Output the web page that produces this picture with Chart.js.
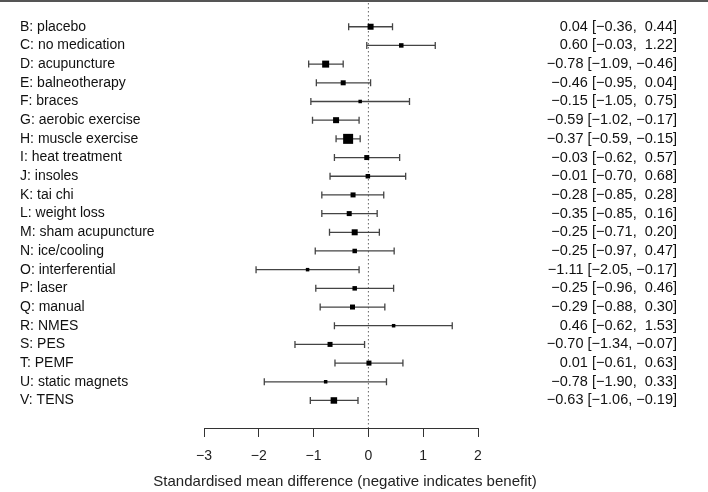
<!DOCTYPE html>
<html>
<head>
<meta charset="utf-8">
<script src="https://cdn.jsdelivr.net/npm/chart.js@4.4.1/dist/chart.umd.min.js"></script>
<style>
  html, body { margin: 0; padding: 0; background: #fff; }
  #wrap { width: 708px; height: 492px; position: relative; }
</style>
</head>
<body>
<div id="wrap"><canvas id="forest"></canvas></div>
<script>
(function () {
  "use strict";

  var treatments = [
    "B: placebo", "C: no medication", "D: acupuncture", "E: balneotherapy",
    "F: braces", "G: aerobic exercise", "H: muscle exercise", "I: heat treatment",
    "J: insoles", "K: tai chi", "L: weight loss", "M: sham acupuncture",
    "N: ice/cooling", "O: interferential", "P: laser", "Q: manual",
    "R: NMES", "S: PES", "T: PEMF", "U: static magnets", "V: TENS"
  ];
  var estimates = [0.04, 0.60, -0.78, -0.46, -0.15, -0.59, -0.37, -0.03, -0.01, -0.28,
    -0.35, -0.25, -0.25, -1.11, -0.25, -0.29, 0.46, -0.70, 0.01, -0.78, -0.63];
  var lowerCI = [-0.36, -0.03, -1.09, -0.95, -1.05, -1.02, -0.59, -0.62, -0.70, -0.85,
    -0.85, -0.71, -0.97, -2.05, -0.96, -0.88, -0.62, -1.34, -0.61, -1.90, -1.06];
  var upperCI = [0.44, 1.22, -0.46, 0.04, 0.75, -0.17, -0.15, 0.57, 0.68, 0.28,
    0.16, 0.20, 0.47, -0.17, 0.46, 0.30, 1.53, -0.07, 0.63, 0.33, -0.19];
  // relative weight of each comparison (drives the square size)
  var weights = [0.6, 0.45, 0.7, 0.5, 0.35, 0.6, 1.0, 0.5, 0.45, 0.5,
    0.5, 0.6, 0.45, 0.35, 0.45, 0.5, 0.35, 0.5, 0.5, 0.35, 0.65];
  var xTicks = [-3, -2, -1, 0, 1, 2];
  var xTitle = "Standardised mean difference (negative indicates benefit)";

  var FONT = "'Liberation Sans', Arial, Helvetica, sans-serif";
  var ROW_PX = 19;
  var MAX_BOX = 10;

  function num(v) {
    return (v < 0 ? "\u2212" : "") + Math.abs(v).toFixed(2);
  }
  function padded(v) {
    return v < 0 ? num(v) : " " + num(v);
  }
  var ciLabels = estimates.map(function (e, i) {
    return num(e) + " [" + padded(lowerCI[i]) + ", " + padded(upperCI[i]) + "]";
  });

  var rowTicks = function (scale) {
    scale.ticks = treatments.map(function (_, i) { return { value: i }; });
  };

  var forestDecor = {
    id: "forestDecor",
    beforeDatasetsDraw: function (chart) {
      var ctx = chart.ctx;
      var xs = chart.scales.x;
      var ys = chart.scales.y;
      var area = chart.chartArea;
      ctx.save();

      // rule across the top
      ctx.strokeStyle = "#555";
      ctx.lineWidth = 2;
      ctx.beginPath();
      ctx.moveTo(0, 1);
      ctx.lineTo(chart.width, 1);
      ctx.stroke();

      // line of no effect
      var x0 = xs.getPixelForValue(0);
      ctx.strokeStyle = "#666";
      ctx.lineWidth = 1;
      ctx.setLineDash([1.5, 2.5]);
      ctx.beginPath();
      ctx.moveTo(x0, 3);
      ctx.lineTo(x0, area.bottom);
      ctx.stroke();
      ctx.setLineDash([]);

      // confidence intervals
      ctx.strokeStyle = "#444";
      ctx.lineWidth = 1.3;
      for (var i = 0; i < treatments.length; i++) {
        var yp = ys.getPixelForValue(i);
        var xa = xs.getPixelForValue(lowerCI[i]);
        var xb = xs.getPixelForValue(upperCI[i]);
        ctx.beginPath();
        ctx.moveTo(xa, yp);
        ctx.lineTo(xb, yp);
        ctx.moveTo(xa, yp - 3.5);
        ctx.lineTo(xa, yp + 3.5);
        ctx.moveTo(xb, yp - 3.5);
        ctx.lineTo(xb, yp + 3.5);
        ctx.stroke();
      }
      ctx.restore();
    },
    afterDraw: function (chart) {
      // axis title, drawn without the scale's width limit
      var ctx = chart.ctx;
      var area = chart.chartArea;
      ctx.save();
      ctx.font = "15px " + FONT;
      ctx.fillStyle = "#222";
      ctx.textAlign = "center";
      ctx.textBaseline = "middle";
      ctx.fillText(xTitle, (area.left + area.right) / 2 + 4, 482);
      ctx.restore();
    }
  };

  var yMin = -20 / ROW_PX;
  var yMax = 408 / ROW_PX;

  new Chart(document.getElementById("forest").getContext("2d"), {
    type: "scatter",
    data: {
      datasets: [
        {
          data: estimates.map(function (e, i) { return { x: e, y: i }; }),
          pointStyle: "rect",
          pointRadius: function (c) { return (weights[c.dataIndex] * MAX_BOX) / Math.SQRT2; },
          pointHoverRadius: function (c) { return (weights[c.dataIndex] * MAX_BOX) / Math.SQRT2; },
          backgroundColor: "#000",
          borderWidth: 0,
          xAxisID: "x",
          yAxisID: "y"
        }
      ]
    },
    options: {
      responsive: true,
      maintainAspectRatio: false,
      animation: false,
      layout: { padding: { left: 20, right: 31, top: 0, bottom: 0 } },
      plugins: {
        legend: { display: false },
        tooltip: { enabled: false }
      },
      scales: {
        x: {
          type: "linear",
          min: -3,
          max: 2,
          afterBuildTicks: function (s) { s.ticks = xTicks.map(function (v) { return { value: v }; }); },
          ticks: {
            callback: function (v) { return (v < 0 ? "\u2212" : "") + Math.abs(v); },
            font: { family: FONT, size: 14 },
            color: "#222",
            padding: 11,
            maxRotation: 0,
            autoSkip: false
          },
          grid: { drawOnChartArea: false, drawTicks: true, tickLength: 9, color: "#333", lineWidth: 1 },
          border: { display: true, color: "#333", width: 1 },
          title: { display: false },
          afterFit: function (s) { s.height = 64; }
        },
        y: {
          type: "linear",
          position: "left",
          reverse: true,
          min: yMin,
          max: yMax,
          afterBuildTicks: rowTicks,
          ticks: {
            callback: function (v) { return treatments[v]; },
            crossAlign: "far",
            font: { family: FONT, size: 14 },
            color: "#111",
            autoSkip: false
          },
          grid: { display: false },
          border: { display: false },
          afterFit: function (s) { s.width = 184; s.paddingTop = 0; s.paddingBottom = 0; }
        },
        yCI: {
          type: "linear",
          position: "right",
          reverse: true,
          min: yMin,
          max: yMax,
          afterBuildTicks: rowTicks,
          ticks: {
            callback: function (v) { return ciLabels[v]; },
            crossAlign: "far",
            font: { family: FONT, size: 14.5 },
            color: "#111",
            autoSkip: false
          },
          grid: { display: false },
          border: { display: false },
          afterFit: function (s) { s.width = 199; s.paddingTop = 0; s.paddingBottom = 0; }
        }
      }
    },
    plugins: [forestDecor]
  });
})();
</script>
</body>
</html>
